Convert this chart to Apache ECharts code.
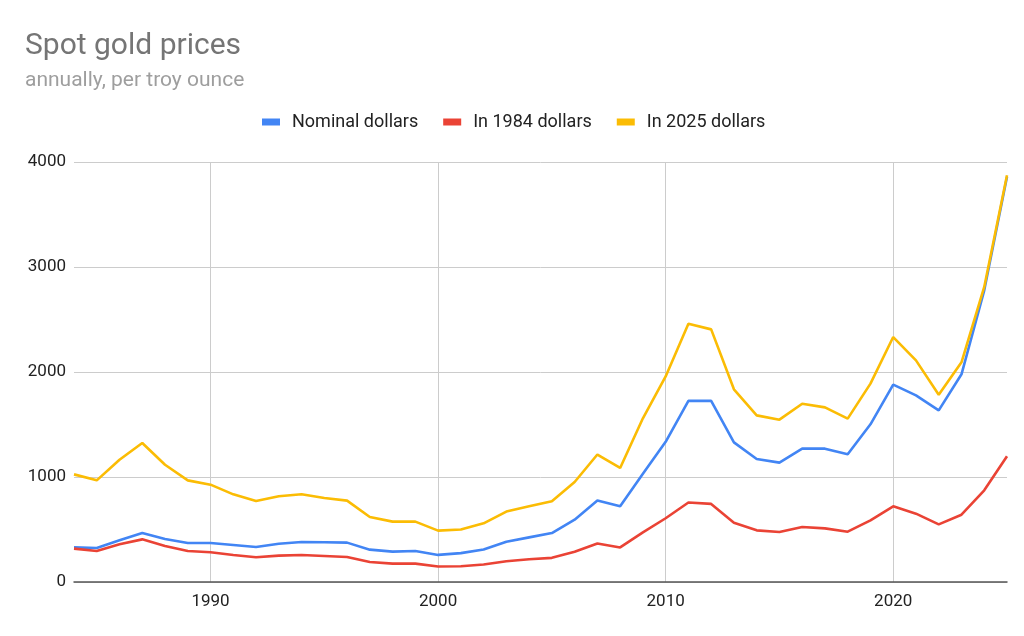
<!DOCTYPE html>
<html>
<head>
<meta charset="utf-8">
<script src="https://cdn.jsdelivr.net/npm/echarts@6/dist/echarts.min.js"></script>
<style>
  html, body { margin: 0; padding: 0; background: #fff; }
  #chart { width: 1024px; height: 636px; }
</style>
</head>
<body>
<div id="chart"></div>
<script>
// 年份（类目轴）
const years = ['1984','1985','1986','1987','1988','1989','1990','1991','1992','1993',
  '1994','1995','1996','1997','1998','1999','2000','2001','2002','2003',
  '2004','2005','2006','2007','2008','2009','2010','2011','2012','2013',
  '2014','2015','2016','2017','2018','2019','2020','2021','2022','2023',
  '2024','2025'];

// 名义价格
const nominal = [330, 324, 397, 467, 410, 371, 371, 352, 333, 365,
  381, 378, 375, 308, 289, 295, 258, 275, 310, 383,
  425, 466, 594, 776, 722, 1032, 1335, 1725, 1725, 1330,
  1171, 1137, 1270, 1270, 1216, 1502, 1880, 1778, 1635, 1978,
  2778, 3860];

// 1984 年美元
const in1984 = [318, 295, 359, 406, 343, 295, 283, 257, 235, 251,
  257, 248, 238, 190, 175, 175, 148, 150, 166, 198,
  217, 230, 288, 367, 329, 473, 607, 757, 744, 565,
  492, 476, 524, 511, 479, 587, 721, 651, 549, 641,
  873, 1197];

// 2025 年美元
const in2025 = [1025, 968, 1165, 1324, 1117, 968, 927, 835, 771, 816,
  835, 800, 775, 619, 575, 575, 489, 500, 559, 671,
  722, 770, 952, 1214, 1086, 1559, 1958, 2460, 2406, 1835,
  1587, 1546, 1698, 1663, 1556, 1889, 2333, 2111, 1784, 2092,
  2810, 3873];

const seriesNames = ['Nominal dollars', 'In 1984 dollars', 'In 2025 dollars'];
const colors = ['#4285F4', '#EA4335', '#FBBC04'];
const font = 'Roboto';

const chart = echarts.init(document.getElementById('chart'));
const decade = (i, v) => Number(v) % 10 === 0;

const lineSeries = (name, data, color) => ({
    name, type: 'line', data,
    showSymbol: false, symbol: 'none',
    lineStyle: { width: 2.6, color },
    itemStyle: { color },
    emphasis: { disabled: true }
});

chart.setOption({
    backgroundColor: '#ffffff',
    animation: false,
    color: colors,
    title: [
        { text: 'Spot gold prices', left: 25, top: 31, padding: 0,
          textStyle: { fontFamily: font, fontSize: 30, fontWeight: 'normal', color: '#757575' } },
        { text: 'annually, per troy ounce', left: 25, top: 70, padding: 0,
          textStyle: { fontFamily: font, fontSize: 21, fontWeight: 'normal', color: '#9e9e9e' } }
    ],
    legend: {
        data: seriesNames,
        left: 262, top: 108, padding: [5, 0],
        icon: 'rect', itemWidth: 18, itemHeight: 7, itemGap: 25,
        textStyle: { fontFamily: font, fontSize: 18, color: '#222', padding: [0, 0, 0, 7] }
    },
    grid: { left: 74, right: 17, top: 162, bottom: 54, containLabel: false },
    xAxis: {
        type: 'category', data: years, boundaryGap: false,
        axisLine: { lineStyle: { color: '#555', width: 1.5 } },
        axisTick: { show: false },
        axisLabel: { interval: decade, margin: 11, fontFamily: font, fontSize: 17, color: '#222' },
        splitLine: { show: true, interval: decade, lineStyle: { color: '#cccccc', width: 1 } }
    },
    yAxis: {
        type: 'value', min: 0, max: 4000, interval: 1000,
        axisLine: { show: false }, axisTick: { show: false },
        axisLabel: { margin: 8, fontFamily: font, fontSize: 17, color: '#222', formatter: v => String(v) },
        splitLine: { lineStyle: { color: '#cccccc', width: 1 } }
    },
    series: [
        lineSeries(seriesNames[0], nominal, colors[0]),
        lineSeries(seriesNames[1], in1984, colors[1]),
        lineSeries(seriesNames[2], in2025, colors[2])
    ]
});
</script>
</body>
</html>
